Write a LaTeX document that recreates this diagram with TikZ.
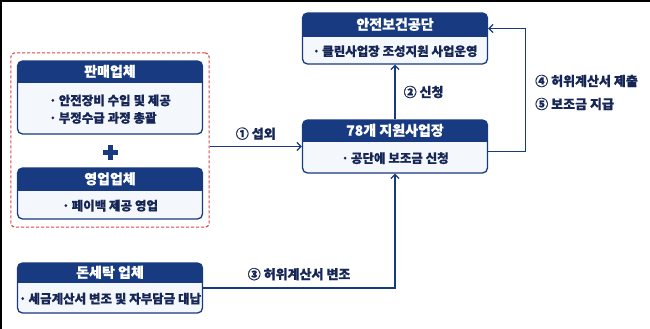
\documentclass[tikz,border=0pt]{standalone}
\usepackage{fontspec}
\usepackage{tikz}
\usetikzlibrary{arrows.meta,positioning,fit,calc}
\newfontfamily\kor{Noto Sans CJK KR}[BoldFeatures={FakeBold=0.5}]
\definecolor{navy}{RGB}{24,58,128}
\definecolor{ink}{RGB}{22,38,86}
\definecolor{pale}{RGB}{244,247,252}
\definecolor{dashred}{RGB}{214,72,72}
\tikzset{head/.style={path picture={\fill[navy, sharp corners] (path picture bounding box.north west) rectangle ([yshift=-#1]path picture bounding box.north east);}}}

\begin{document}
\begin{tikzpicture}[x=1pt, y=-1pt]
\tikzstyle{unit} = [draw=navy, line width=1.3pt, rounded corners=5pt, fill=pale, minimum width=185pt, inner sep=0pt]
\tikzstyle{title} = [font=\kor\bfseries\fontsize{14}{16}\selectfont, text=white, inner sep=0pt]
\tikzstyle{item} = [font=\kor\bfseries\fontsize{12.5}{17.5}\selectfont, text=ink, inner sep=0pt, align=left]
\tikzstyle{tag} = [font=\kor\bfseries\fontsize{13}{23}\selectfont, text=ink, inner sep=0pt]
\tikzstyle{arrow} = [navy, line width=1.3pt, -{Straight Barb[length=4pt,width=8pt]}]
\tikzstyle{group} = [draw=dashred, line width=1.1pt, dash pattern=on 3pt off 2pt, rounded corners=4pt, inner xsep=6pt, inner ysep=7.5pt]

\useasboundingbox[fill=white] (0,0) rectangle (650,329);
\draw[black, line width=4pt] (0,329) -- (0,0) -- (650,0);

% top right: agency and the sites
\node[unit, head=24pt, minimum height=51pt] (safety) at (395,38.5) {};
\node[title] (safety-t) at ([yshift=-12pt]safety.north) {안전보건공단};
\node[item] (safety-b) at ([yshift=13.5pt]safety.south) {·\,클린사업장 조성지원 사업운영};

\node[unit, head=22pt, minimum height=53pt] (site) at (395,146.5) {};
\node[title] (site-t) at ([yshift=-11pt]site.north) {78개 지원사업장};
\node[item] (site-b) at ([yshift=15.5pt]site.south) {·\,공단에 보조금 신청};

% left: vendors
\node[unit, head=22pt, minimum height=73pt] (sales) at (110,97.5) {};
\node[title] (sales-t) at ([yshift=-11pt]sales.north) {판매업체};
\node[item] (sales-b) at ([yshift=25.5pt]sales.south) {·\,안전장비 수입 및 제공\\·\,부정수급 과정 총괄};

\node[unit, head=23pt, minimum height=51pt] (agent) at (110,193.5) {};
\node[title] (agent-t) at ([yshift=-11.5pt]agent.north) {영업업체};
\node[item] (agent-b) at ([yshift=14pt]agent.south) {·\,페이백 제공 영업};

\coordinate (plus) at (110,152);
\fill[navy] ([xshift=-7.5pt,yshift=-2.5pt]plus) rectangle ([xshift=7.5pt,yshift=2.5pt]plus);
\fill[navy] ([xshift=-2.5pt,yshift=-7.5pt]plus) rectangle ([xshift=2.5pt,yshift=7.5pt]plus);

\node[group, fit=(sales)(agent)] (vendors) {};

\node[unit, head=20pt, minimum height=50pt] (launder) at (110,288) {};
\node[title] (launder-t) at ([yshift=-10pt]launder.north) {돈세탁 업체};
\node[item] (launder-b) at ([yshift=15pt]launder.south) {·\,세금계산서 변조 및 자부담금 대납};

% flows
\draw[arrow] (site.west -| vendors.east) -- (site.west) node[tag, midway, above=6pt] (step1) {① 섭외};
\draw[arrow] (site.north) -- (safety.south) node[tag, midway, right=8pt] (step2) {② 신청};
\draw[arrow] (launder.east) -| (site.south) node[tag, pos=0.25, above=7pt] (step3) {③ 허위계산서 변조};
\draw[arrow, {Straight Barb[length=4pt,width=8pt]}-] ([yshift=10pt]safety.east) -- ++(37,0) |- ([yshift=-5pt]site.east);
\node[tag, align=left, anchor=west] (step45) at (535,92.5) {④ 허위계산서 제출\\⑤ 보조금 지급};
\end{tikzpicture}
\end{document}
